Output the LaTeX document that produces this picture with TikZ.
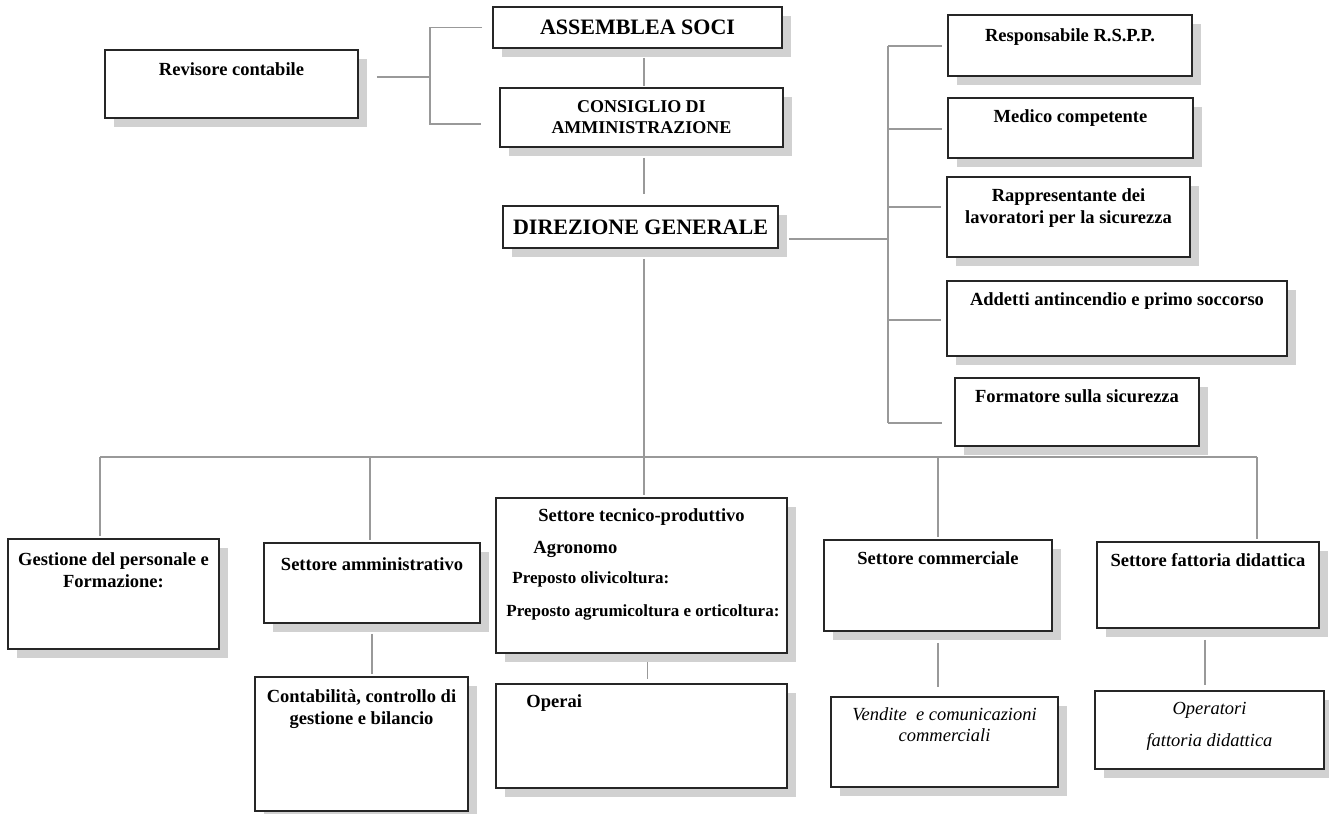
\documentclass[tikz,border=0pt]{standalone}
\usepackage{fontspec}
\setmainfont{Liberation Serif}
\usetikzlibrary{positioning,shadows}

\tikzset{
  box/.style={draw=black!85, line width=1.6pt, fill=white, inner sep=0pt,
    drop shadow={shadow xshift=9pt, shadow yshift=-9pt, fill=black!18, opacity=1}},
  lbl/.style={font=\bfseries\fontsize{18.5}{22}\selectfont, align=center, inner sep=0pt},
  big/.style={font=\bfseries\fontsize{22}{26}\selectfont, inner sep=0pt},
  mid/.style={font=\bfseries\fontsize{18}{21}\selectfont, align=center, inner sep=0pt},
  small/.style={font=\bfseries\fontsize{17}{20}\selectfont, inner sep=0pt},
  ital/.style={font=\itshape\fontsize{18.5}{21}\selectfont, align=center, inner sep=0pt},
  link/.style={draw=black!40, line width=1.4pt}
}

\begin{document}
\begin{tikzpicture}[x=1pt, y=-1pt]
\useasboundingbox (0,0) rectangle (1329,813);
% 方框
\foreach \n/\cx/\cy/\w/\h in {
  rev/231.5/84/253/68, ass/637.5/27.5/289/41, cda/641.5/117.5/283/59, dir/640.5/227/275/42,
  rspp/1070/45.5/244/61, med/1070.5/128/245/60, rls/1068.5/217/243/80,
  add/1117/318.5/340/75, form/1077/412/244/68,
  ges/113.5/594/211/110, amm/372/583/216/80, cont/361.5/744/213/134,
  tec/641.5/575.5/291/155, ope/641.5/736/291/104,
  com/938/585.5/228/91, vend/944.5/742/227/90,
  fat/1208/585/222/86, opf/1209.5/730/229/78}
  \node[box, minimum width=\w pt, minimum height=\h pt] (\n) at (\cx,\cy) {};
% 文字
\node[lbl, below=13pt of rev.north] (revt) {Revisore contabile};
\node[big] (asst) at (ass) {ASSEMBLEA SOCI};
\node[mid] (cdat) at (cda) {CONSIGLIO DI\\AMMINISTRAZIONE};
\node[big] (dirt) at (dir) {DIREZIONE GENERALE};
\node[lbl, below=14pt of rspp.north] (rsppt) {Responsabile R.S.P.P.};
\node[lbl, below=12pt of med.north] (medt) {Medico competente};
\node[lbl, below=12pt of rls.north] (rlst) {Rappresentante dei\\lavoratori per la sicurezza};
\node[lbl, below=12pt of add.north] (addt) {Addetti antincendio e primo soccorso};
\node[lbl, below=12pt of form.north] (formt) {Formatore sulla sicurezza};
\node[lbl, below=14pt of ges.north] (gest) {Gestione del personale e\\Formazione:};
\node[lbl, below=15pt of amm.north] (ammt) {Settore amministrativo};
\node[lbl, below=13pt of cont.north] (contt) {Contabilità, controllo di\\gestione e bilancio};
\node[lbl, below=11pt of tec.north] (tect) {Settore tecnico-produttivo};
\node[lbl, anchor=base west] (agrt) at ([xshift=38pt, yshift=-56pt]tec.north west) {Agronomo};
\node[small, anchor=base west] (olit) at ([xshift=17pt, yshift=-86pt]tec.north west) {Preposto olivicoltura:};
\node[small, anchor=base west] (agrut) at ([xshift=11pt, yshift=-119pt]tec.north west) {Preposto agrumicoltura e orticoltura:};
\node[lbl, anchor=base west] (opet) at ([xshift=31pt, yshift=-24pt]ope.north west) {Operai};
\node[lbl, below=12pt of com.north] (comt) {Settore commerciale};
\node[ital, below=11pt of vend.north] (vendt) {Vendite~ e comunicazioni\\commerciali};
\node[lbl, below=12pt of fat.north] (fatt) {Settore fattoria didattica};
\node[ital, below=12pt of opf.north] (opft) {Operatori\\[11pt]fattoria didattica};
% 左侧连线
\coordinate (jr) at (430,77);
\coordinate (jc) at (430,124);
\draw[link, shorten <=18pt] (rev.east |- jr) -- (jr);
\draw[link, shorten <=10pt, shorten >=18pt] (ass.west) -| (jc) -- (cda.west |- jc);
\draw[link, shorten <=9pt, shorten >=1pt] ([xshift=2.5pt]ass.south -| cda.north) -- ([xshift=2.5pt]cda.north);
\draw[link, shorten <=10pt, shorten >=11pt] ([xshift=2.5pt]cda.south) -- ([xshift=2.5pt]cda.south |- dir.north);
% 右侧连线
\coordinate (jd) at (888,239);
\coordinate (rt) at (888,46);
\coordinate (rb) at (888,423);
\draw[link, shorten <=10pt] (dir.east |- jd) -- (jd);
\draw[link] (rt) -- (rb);
\foreach \n/\y/\g in {rspp/46/5, med/129/5, rls/207/5, add/320/5, form/423/12}
  \draw[link, shorten >=\g pt] (888,\y) -- (\n.west |- 888,\y);
% 下方连线
\coordinate (jb) at (644,457);
\coordinate (bl) at (100,457);
\coordinate (br) at (1257,457);
\draw[link, shorten <=10pt] (dir.south -| jb) -- (jb);
\draw[link] (bl) -- (br);
\foreach \n/\x in {ges/100, amm/370, tec/644, com/938, fat/1257}
  \draw[link, shorten >=2pt] (\x,457) -- (\n.north -| \x,457);
\draw[link, shorten <=10pt, shorten >=2pt] (amm.south) -- (cont.north -| amm.south);
\draw[link, shorten <=8pt, shorten >=4pt] ([xshift=6pt]tec.south) -- ([xshift=6pt]ope.north);
\draw[link, shorten <=11pt, shorten >=9pt] (com.south) -- (vend.north -| com.south);
\draw[link, shorten <=11pt, shorten >=5pt] ([xshift=-3pt]fat.south) -- ([xshift=-3pt]fat.south |- opf.north);
\end{tikzpicture}
\end{document}
